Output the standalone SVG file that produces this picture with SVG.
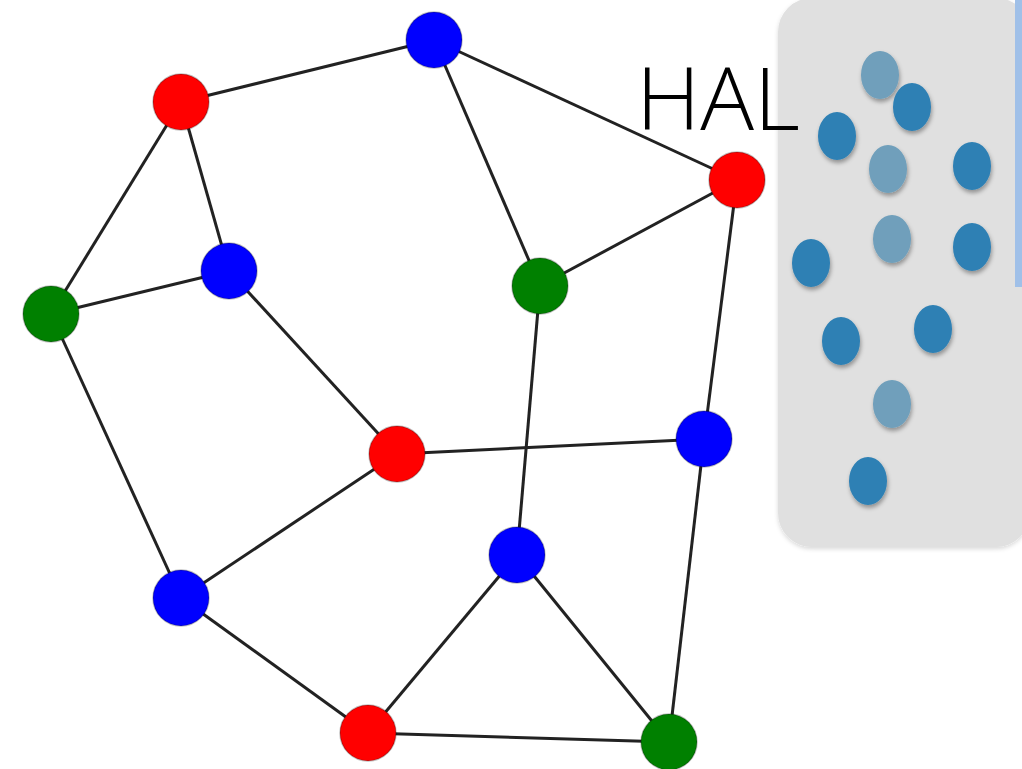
<svg xmlns="http://www.w3.org/2000/svg" width="1022" height="769" viewBox="0 0 1022 769">
<defs>
<style>
.e{stroke:#222;stroke-width:3;fill:none}
.n{stroke:rgba(0,0,0,0.25);stroke-width:1.5}
.r{fill:#ff0000}.b{fill:#0000ff}.g{fill:#008000}
.d{fill:#2e80b4;filter:url(#sh)}
.l{fill:#6f9fbb;filter:url(#sh)}
</style>
<filter id="sh" x="-30%" y="-30%" width="160%" height="170%">
<feDropShadow dx="1" dy="3" stdDeviation="2" flood-color="#000" flood-opacity="0.35"/>
</filter>
<filter id="psh" x="-10%" y="-10%" width="120%" height="120%">
<feDropShadow dx="0" dy="2" stdDeviation="2" flood-color="#000" flood-opacity="0.15"/>
</filter>
</defs>
<rect width="1022" height="769" fill="#fff"/>
<g id="panel">
<rect x="778" y="-2" width="252" height="549" rx="34" fill="#e0e0e0" filter="url(#psh)"/>
<rect x="1015" y="0" width="7" height="287" fill="#a0c0e8"/>
<ellipse class="l" cx="880" cy="75" rx="19" ry="24"/>
<ellipse class="d" cx="912" cy="107" rx="19" ry="24"/>
<ellipse class="d" cx="837" cy="136" rx="19" ry="24"/>
<ellipse class="l" cx="888" cy="169" rx="19" ry="24"/>
<ellipse class="d" cx="972" cy="166" rx="19" ry="24"/>
<ellipse class="l" cx="892" cy="239" rx="19" ry="24"/>
<ellipse class="d" cx="972" cy="247" rx="19" ry="24"/>
<ellipse class="d" cx="811" cy="263" rx="19" ry="24"/>
<ellipse class="d" cx="841" cy="341" rx="19" ry="24"/>
<ellipse class="d" cx="933" cy="329" rx="19" ry="24"/>
<ellipse class="l" cx="892" cy="404" rx="19" ry="24"/>
<ellipse class="d" cx="868" cy="481" rx="19" ry="24"/>
</g>
<g id="edges">
<line class="e" x1="181" y1="102" x2="434" y2="40"/>
<line class="e" x1="181" y1="102" x2="229" y2="271"/>
<line class="e" x1="181" y1="102" x2="51" y2="314"/>
<line class="e" x1="51" y1="314" x2="229" y2="271"/>
<line class="e" x1="51" y1="314" x2="181" y2="598"/>
<line class="e" x1="229" y1="271" x2="397" y2="454"/>
<line class="e" x1="434" y1="40" x2="540" y2="286"/>
<line class="e" x1="434" y1="40" x2="737" y2="180"/>
<line class="e" x1="737" y1="180" x2="540" y2="286"/>
<line class="e" x1="737" y1="180" x2="704" y2="439"/>
<line class="e" x1="540" y1="286" x2="517" y2="555"/>
<line class="e" x1="397" y1="454" x2="704" y2="439"/>
<line class="e" x1="397" y1="454" x2="181" y2="598"/>
<line class="e" x1="181" y1="598" x2="368" y2="733"/>
<line class="e" x1="368" y1="733" x2="517" y2="555"/>
<line class="e" x1="368" y1="733" x2="669" y2="742"/>
<line class="e" x1="517" y1="555" x2="669" y2="742"/>
<line class="e" x1="704" y1="439" x2="669" y2="742"/>
</g>
<g id="n1"><circle class="n r" cx="181" cy="102" r="28"/></g>
<g id="n2"><circle class="n b" cx="434" cy="40" r="28"/></g>
<g id="n3"><circle class="n r" cx="737" cy="180" r="28"/></g>
<g id="n4"><circle class="n b" cx="229" cy="271" r="28"/></g>
<g id="n5"><circle class="n g" cx="540" cy="286" r="28"/></g>
<g id="n6"><circle class="n g" cx="51" cy="314" r="28"/></g>
<g id="n7"><circle class="n r" cx="397" cy="454" r="28"/></g>
<g id="n8"><circle class="n b" cx="704" cy="439" r="28"/></g>
<g id="n9"><circle class="n b" cx="517" cy="555" r="28"/></g>
<g id="n10"><circle class="n b" cx="181" cy="598" r="28"/></g>
<g id="n11"><circle class="n r" cx="368" cy="733" r="28"/></g>
<g id="n12"><circle class="n g" cx="669" cy="742" r="28"/></g>
<g id="label"><text x="636" y="130" font-family="'Open Sans', 'Liberation Sans', sans-serif" font-weight="300" font-size="86" fill="#000" textLength="164" lengthAdjust="spacingAndGlyphs">HAL</text></g>
</svg>
